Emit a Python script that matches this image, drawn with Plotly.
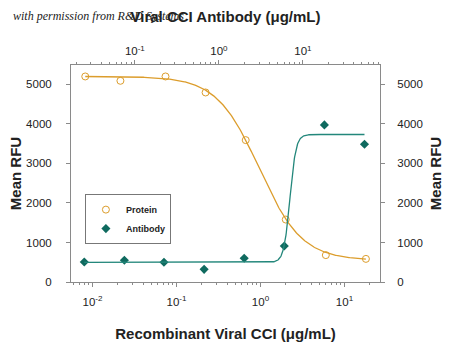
import numpy as np
import plotly.graph_objects as go

# ---------------- data ----------------
protein_conc = [0.0082, 0.0215, 0.074, 0.222, 0.667, 2.0, 6.0, 18.0]      # Recombinant Viral CCI (ug/mL)
protein_rfu = [5200, 5090, 5200, 4795, 3590, 1580, 680, 585]
antibody_conc = [0.025, 0.075, 0.222, 0.667, 2.0, 6.0, 18.0, 54.0]       # Viral CCI Antibody (ug/mL)
antibody_rfu = [505, 550, 500, 320, 600, 910, 3975, 3485]

# four-parameter logistic fit parameters
protein_fit = dict(bottom=550, top=5200, ec50=0.967, hill=1.71)
antibody_fit = dict(bottom=495, top=3732, ec50=7.0, hill=12.0)

y_ticks = [0, 1000, 2000, 3000, 4000, 5000]
bottom_decades = [-2, -1, 0, 1]
top_decades = [-1, 0, 1]

# ---------------- derived fit curves ----------------
def logistic_down(x, p):
    return p["bottom"] + (p["top"] - p["bottom"]) / (1 + (x / p["ec50"]) ** p["hill"])

def logistic_up(x, p):
    return p["bottom"] + (p["top"] - p["bottom"]) / (1 + (p["ec50"] / x) ** p["hill"])

px_fit = np.logspace(np.log10(min(protein_conc)), np.log10(max(protein_conc)), 400)
ax_fit = np.logspace(np.log10(min(antibody_conc)), np.log10(max(antibody_conc)), 800)

def decade_ticks(decades):
    vals = [10.0 ** e for e in decades]
    text = [f"10<sup>{e}</sup>" for e in decades]
    return vals, text

def minor_ticks(decades):
    lo, hi = decades[0] - 1, decades[-1] + 1
    return [m * 10.0 ** e for e in range(lo, hi + 1) for m in range(2, 10)]

ORANGE = "#dc9d2c"
TEAL_LINE = "#23877b"
TEAL_MARK = "#0f6a5f"
AXIS = "#8a8a8a"
TXT = "#222222"
SANS = "Liberation Sans, Arial, sans-serif"

fig = go.Figure()
fig.add_trace(go.Scatter(x=px_fit, y=logistic_down(px_fit, protein_fit), mode="lines",
                         line=dict(color=ORANGE, width=1.3), showlegend=False, hoverinfo="skip",
                         xaxis="x", yaxis="y"))
fig.add_trace(go.Scatter(x=ax_fit, y=logistic_up(ax_fit, antibody_fit), mode="lines",
                         line=dict(color=TEAL_LINE, width=1.3), showlegend=False, hoverinfo="skip",
                         xaxis="x2", yaxis="y2"))
fig.add_trace(go.Scatter(x=protein_conc, y=protein_rfu, mode="markers", name="Protein",
                         marker=dict(symbol="circle-open", size=7, color=ORANGE, line=dict(width=1)),
                         xaxis="x", yaxis="y"))
fig.add_trace(go.Scatter(x=antibody_conc, y=antibody_rfu, mode="markers", name="Antibody",
                         marker=dict(symbol="diamond", size=7, color=TEAL_MARK),
                         xaxis="x2", yaxis="y"))

tickfont = dict(family=SANS, size=11.5, color=TXT)
titlefont = dict(family=SANS, size=15, color=TXT, weight="bold")

bv, bt = decade_ticks(bottom_decades)
tv, tt = decade_ticks(top_decades)

common_x = dict(type="log", showline=True, linecolor=AXIS, linewidth=1, ticks="outside",
                ticklen=4, tickcolor=AXIS, showgrid=False, zeroline=False, tickfont=tickfont,
                automargin=False)
common_y = dict(range=[0, 5490], tickvals=y_ticks, showline=True, linecolor=AXIS, linewidth=1,
                ticks="outside", ticklen=4, tickcolor=AXIS, showgrid=False, zeroline=False,
                tickfont=tickfont, automargin=False)

fig.update_layout(
    width=450, height=349,
    margin=dict(l=71, r=70, t=65, b=67),
    paper_bgcolor="white", plot_bgcolor="white",
    xaxis=dict(common_x, range=[-2.256, 1.423], side="bottom", anchor="y",
               tickvals=bv, ticktext=bt, ticklabelstandoff=5,
               minor=dict(tickvals=minor_ticks(bottom_decades), ticks="outside", ticklen=2,
                          tickcolor=AXIS, showgrid=False),
               title=dict(text="Recombinant Viral CCI (μg/mL)", font=titlefont, standoff=21)),
    xaxis2=dict(common_x, range=[-1.76, 1.917], side="top", overlaying="x", anchor="y",
                tickvals=tv, ticktext=tt,
                minor=dict(tickvals=minor_ticks(top_decades), ticks="outside", ticklen=2,
                           tickcolor=AXIS, showgrid=False),
                title=dict(text="Viral CCI Antibody (μg/mL)", font=titlefont, standoff=17)),
    yaxis=dict(common_y, side="left", ticklabelstandoff=12,
               title=dict(text="Mean RFU", font=titlefont, standoff=0)),
    yaxis2=dict(common_y, side="right", overlaying="y", anchor="x", ticklabelstandoff=10,
                title=dict(text="Mean RFU", font=titlefont, standoff=8)),
    legend=dict(x=0.045, y=0.405, xanchor="left", yanchor="top", bgcolor="white",
                bordercolor="#777777", borderwidth=1,
                font=dict(family=SANS, size=9, color=TXT, weight="bold"),
                itemwidth=30, tracegroupgap=0),
    annotations=[dict(text="with permission from R&D Systems", xref="paper", yref="paper",
                      x=-0.194, y=1.226, xanchor="left", yanchor="middle", showarrow=False,
                      font=dict(family="Liberation Serif, DejaVu Serif, serif", size=12,
                                color=TXT, style="italic"))],
    showlegend=True,
)

fig.write_html("out.html")
